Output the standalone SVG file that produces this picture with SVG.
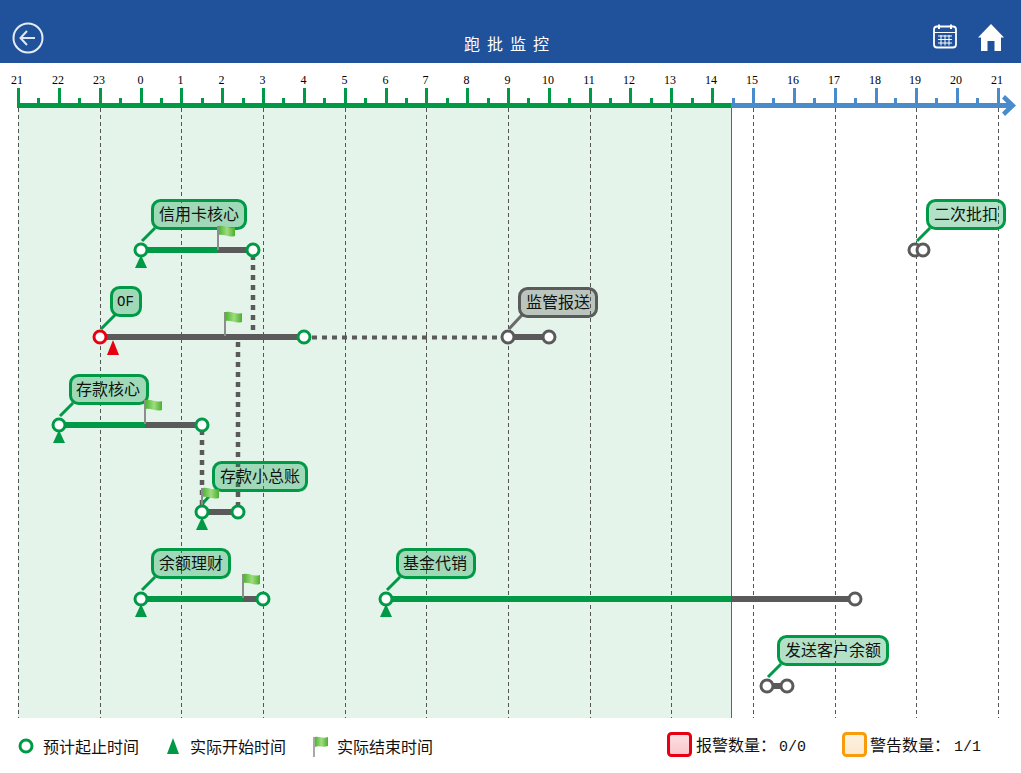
<svg xmlns="http://www.w3.org/2000/svg" width="1021" height="773" viewBox="0 0 1021 773">
<style>
text{font-family:"Noto Sans CJK SC","Liberation Sans",sans-serif;font-size:16px;fill:#111}
.tl{font-family:"Liberation Serif",serif;font-size:12px;text-anchor:middle;fill:#000}
.num{font-family:"Liberation Mono",monospace;font-size:15px}
.grid{stroke:#555;stroke-width:1;stroke-dasharray:4 3}
.g{stroke:#009a46}.b{stroke:#4a8ccb}
.bar{stroke-width:6;fill:none}
.gb{stroke:#009a46}.yb{stroke:#5a5a5a}
.dot{stroke:#5a5a5a;stroke-width:4.500;stroke-dasharray:5 5;fill:none}
.n{fill:#fff;stroke-width:3}
.ng{stroke:#009a46}.ny{stroke:#5a5a5a}.nr{stroke:#e60012}
.bub{fill:#009a46;fill-opacity:.3;stroke:#009a46;stroke-width:3}
.buby{fill:#5a5a5a;fill-opacity:.3;stroke:#5a5a5a;stroke-width:3}
.tail{stroke:#009a46;stroke-width:3}
.taily{stroke:#6a6a6a;stroke-width:3}
.tri{fill:#009a46}
</style>
<defs>
<linearGradient id="fg"><stop offset="0" stop-color="#4fb635"/><stop offset=".5" stop-color="#a0dc7e"/><stop offset="1" stop-color="#4bb030"/></linearGradient>
<linearGradient id="pk" x2="0" y2="1"><stop offset="0" stop-color="#fbe0e3"/><stop offset="1" stop-color="#fbc6cb"/></linearGradient>
<linearGradient id="og" x2="0" y2="1"><stop offset="0" stop-color="#fdf3e2"/><stop offset="1" stop-color="#fde8cc"/></linearGradient>
<g id="flag"><rect x="-1" y="0" width="2" height="24" fill="#8a8f8b"/><path d="M1 0C6-1 11 3 17 1V10C11 12 6 8 1 9Z" fill="url(#fg)"/></g>
</defs>
<rect width="1021" height="773" fill="#fff"/>
<g id="header">
<rect width="1021" height="63" fill="#20519b"/>
<circle cx="28" cy="38" r="14.500" fill="none" stroke="#e6ecf5" stroke-width="2"/>
<path d="M35 38H21M27 31L20.500 38L27 45" fill="none" stroke="#dfe6f2" stroke-width="2"/>
<text x="464" y="50" style="fill:#fff;letter-spacing:7px">跑批监控</text>
<rect x="934" y="26.500" width="22" height="21" rx="3" fill="none" stroke="#fff" stroke-width="1.800"/>
<path d="M934 32.500H956M938 36H952M938 39.500H952M938 43H952M941 35V45.500M945 35V45.500M949 35V45.500" fill="none" stroke="#fff" stroke-width="1"/>
<path d="M939 24.500V29M951 24.500V29" stroke="#fff" stroke-width="2"/>
<path d="M991 24L1004 37.500H1001V51H994.500V41H987.500V51H981V37.500H978Z" fill="#fff"/>
</g>
<rect id="elapsed" x="18" y="108" width="713" height="610" fill="#e4f4ea"/>
<g id="grid" class="grid">
<path d="M18.500 108V718M100.500 108V718M181.500 108V718M263.500 108V718M345.500 108V718M426.500 108V718M508.500 108V718M590.500 108V718M671.500 108V718M753.500 108V718M835.500 108V718M916.500 108V718M998.500 108V718"/>
</g>
<path id="now" d="M731.500 108V718" stroke="#2f7f58" stroke-width="1"/>
<g id="axis">
<path class="g" stroke-width="3" fill="none" d="M18.500 88V103M59.500 88V103M100.500 88V103M141.500 88V103M181.500 88V103M222.500 88V103M263.500 88V103M304.500 88V103M345.500 88V103M386.500 88V103M426.500 88V103M467.500 88V103M508.500 88V103M549.500 88V103M590.500 88V103M630.500 88V103M671.500 88V103M712.500 88V103M38.500 98V103M79.500 98V103M120.500 98V103M161.500 98V103M202.500 98V103M243.500 98V103M283.500 98V103M324.500 98V103M365.500 98V103M406.500 98V103M447.500 98V103M488.500 98V103M528.500 98V103M569.500 98V103M610.500 98V103M651.500 98V103M692.500 98V103"/>
<path class="b" stroke-width="3" fill="none" d="M753.500 88V103M794.500 88V103M835.500 88V103M876.500 88V103M916.500 88V103M957.500 88V103M998.500 88V103M733.500 98V103M773.500 98V103M814.500 98V103M855.500 98V103M895.500 98V103M936.500 98V103M977.500 98V103"/>
<rect x="17" y="103" width="714" height="5" fill="#009a46"/>
<rect x="731" y="103" width="278" height="5" fill="#4a8ccb"/>
<path d="M1005 95L1016 105.500L1005 116L1002 112.500L1009 105.500L1002 98.500Z" fill="#4a8ccb"/>
<g>
<text class="tl" x="17" y="84">21</text><text class="tl" x="58" y="84">22</text><text class="tl" x="99" y="84">23</text><text class="tl" x="140.500" y="84">0</text><text class="tl" x="180.500" y="84">1</text><text class="tl" x="221.500" y="84">2</text><text class="tl" x="262.500" y="84">3</text><text class="tl" x="303.500" y="84">4</text><text class="tl" x="344.500" y="84">5</text><text class="tl" x="385.500" y="84">6</text><text class="tl" x="425.500" y="84">7</text><text class="tl" x="466.500" y="84">8</text><text class="tl" x="507.500" y="84">9</text><text class="tl" x="548" y="84">10</text><text class="tl" x="589" y="84">11</text><text class="tl" x="629" y="84">12</text><text class="tl" x="670" y="84">13</text><text class="tl" x="711" y="84">14</text><text class="tl" x="752" y="84">15</text><text class="tl" x="793" y="84">16</text><text class="tl" x="834" y="84">17</text><text class="tl" x="875" y="84">18</text><text class="tl" x="915" y="84">19</text><text class="tl" x="956" y="84">20</text><text class="tl" x="997" y="84">21</text>
</g>
</g>
<g id="connectors">
<path class="dot" d="M253 255V337"/>
<path class="dot" d="M238 342V507"/>
<path class="dot" d="M202 430V507"/>
<path class="dot" d="M312 337.500H503" style="stroke-width:4"/>
</g>
<g id="node-xinyongka">
<path class="tail" d="M155 228L142 241"/>
<path class="bar gb" d="M141 250H218"/><path class="bar yb" d="M218 250H253"/>
<rect class="bub" x="152.500" y="200.500" width="93" height="28" rx="8"/>
<text x="159" y="220">信用卡核心</text>
<use href="#flag" x="218" y="226"/>
<path class="tri" d="M141 255L147 268H135Z"/>
<circle class="n ng" cx="141" cy="250" r="6"/><circle class="n ng" cx="253" cy="250" r="6"/>
</g>
<g id="node-of">
<path class="tail" d="M115 315L101 329"/>
<path class="bar yb" d="M100 337H304"/>
<rect class="bub" x="111.500" y="287.500" width="29" height="28" rx="8"/>
<text x="117" y="306" style="font-family:'Liberation Mono',monospace;font-size:14px">OF</text>
<use href="#flag" x="225" y="312"/>
<path d="M113 340L119 355H107Z" fill="#e60012"/>
<circle class="n nr" cx="100" cy="337" r="6"/><circle class="n ng" cx="304" cy="337" r="6"/>
</g>
<g id="node-jianguan">
<path class="taily" d="M522 315L509 329"/>
<path class="bar yb" d="M508 337H549"/>
<rect class="buby" x="519.500" y="288.500" width="77" height="28" rx="8"/>
<text x="526" y="308">监管报送</text>
<circle class="n ny" cx="508" cy="337" r="6"/><circle class="n ny" cx="549" cy="337" r="6"/>
</g>
<g id="node-ercipikou">
<path class="tail" d="M930 228L917 241"/>
<rect class="bub" x="927.500" y="200.500" width="77" height="28" rx="8"/>
<text x="934" y="220">二次批扣</text>
<circle class="n ny" cx="915" cy="250" r="6"/><circle class="n ny" cx="923" cy="250" r="6"/>
</g>
<g id="node-cunkuan">
<path class="tail" d="M73 403L60 416"/>
<path class="bar gb" d="M59 425H145"/><path class="bar yb" d="M145 425H202"/>
<rect class="bub" x="70.500" y="375.500" width="77" height="28" rx="8"/>
<text x="76" y="395">存款核心</text>
<use href="#flag" x="145" y="400"/>
<path class="tri" d="M59 430L65 443H53Z"/>
<circle class="n ng" cx="59" cy="425" r="6"/><circle class="n ng" cx="202" cy="425" r="6"/>
</g>
<g id="node-zongzhang">
<path class="tail" d="M215 490L203 503"/>
<path class="bar yb" d="M202 512H238"/>
<rect class="bub" x="213.500" y="462.500" width="93" height="28" rx="8"/>
<text x="220" y="482">存款小总账</text>
<use href="#flag" x="202" y="488"/>
<path class="tri" d="M202 517L208 530H196Z"/>
<circle class="n ng" cx="202" cy="512" r="6"/><circle class="n ng" cx="238" cy="512" r="6"/>
</g>
<g id="node-yue">
<path class="tail" d="M155 577L142 590"/>
<path class="bar gb" d="M141 599H243"/><path class="bar yb" d="M243 599H263"/>
<rect class="bub" x="152.500" y="549.500" width="77" height="28" rx="8"/>
<text x="159" y="569">余额理财</text>
<use href="#flag" x="243" y="574"/>
<path class="tri" d="M141 604L147 617H135Z"/>
<circle class="n ng" cx="141" cy="599" r="6"/><circle class="n ng" cx="263" cy="599" r="6"/>
</g>
<g id="node-jijin">
<path class="tail" d="M400 577L387 590"/>
<path class="bar gb" d="M386 599H731"/><path class="bar yb" d="M731 599H855"/>
<rect class="bub" x="397.500" y="549.500" width="77" height="28" rx="8"/>
<text x="403" y="569">基金代销</text>
<path class="tri" d="M386 604L392 617H380Z"/>
<circle class="n ng" cx="386" cy="599" r="6"/><circle class="n ny" cx="855" cy="599" r="6"/>
</g>
<g id="node-fasong">
<path class="tail" d="M781 664L768 677"/>
<path class="bar yb" d="M767 686H787"/>
<rect class="bub" x="778.500" y="636.500" width="109" height="28" rx="8"/>
<text x="785" y="656">发送客户余额</text>
<circle class="n ny" cx="767" cy="686" r="6"/><circle class="n ny" cx="787" cy="686" r="6"/>
</g>
<g id="legend">
<circle cx="26" cy="746" r="6" fill="#fff" stroke="#009a46" stroke-width="3"/>
<text x="43" y="753">预计起止时间</text>
<path class="tri" d="M173 738L179 754H167Z"/>
<text x="190" y="753">实际开始时间</text>
<rect x="313" y="737" width="2" height="20" fill="#a4aaa6"/>
<path d="M315 737C319 736 323 739 328 737V746C323 748 319 745 315 747Z" fill="url(#fg)"/>
<text x="337" y="753">实际结束时间</text>
<rect x="668.500" y="733.500" width="22" height="22" rx="3" fill="url(#pk)" stroke="#e60012" stroke-width="3"/>
<text x="696" y="751">报警数量：<tspan class="num" x="779">0/0</tspan></text>
<rect x="843.500" y="733.500" width="22" height="22" rx="3" fill="url(#og)" stroke="#f89c0b" stroke-width="3"/>
<text x="870" y="751">警告数量：<tspan class="num" x="954">1/1</tspan></text>
</g>
</svg>
